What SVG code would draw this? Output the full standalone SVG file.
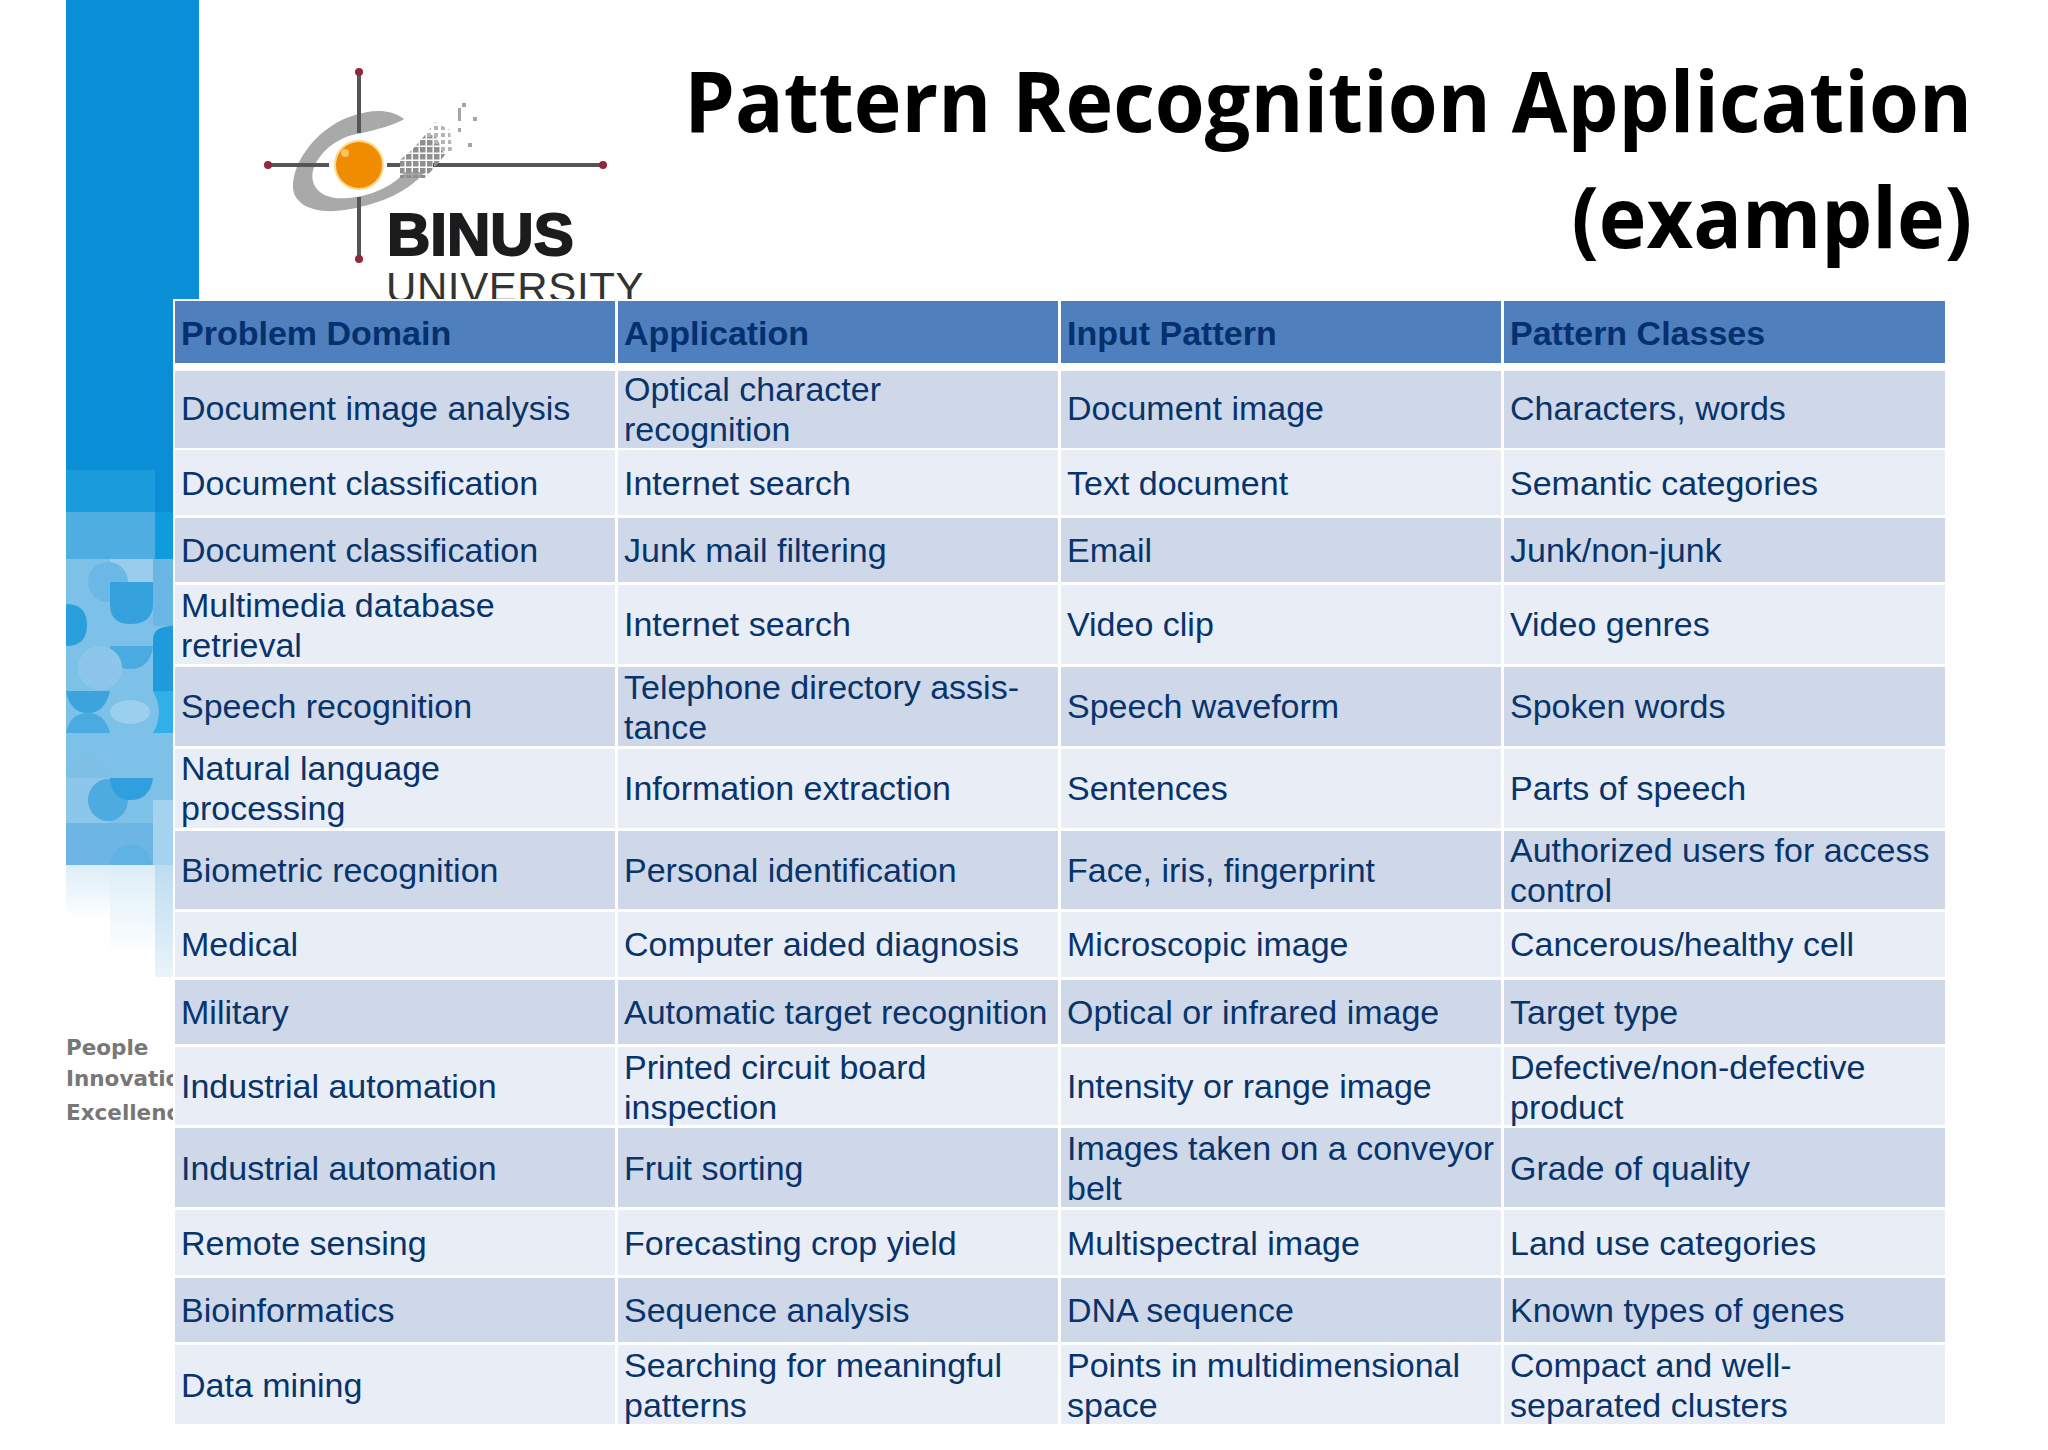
<svg xmlns="http://www.w3.org/2000/svg" width="2048" height="1450" viewBox="0 0 2048 1450">
<defs>
<style>
.t{font-family:"Liberation Sans",Arial,sans-serif;font-size:34px;fill:#08346c}
.h{font-weight:bold;fill:#04306e}
.a{fill:#cfd8e8}.b{fill:#e9edf5}.hd{fill:#4f7fbc}
.ttl{font-family:"Open Sans","Noto Sans",sans-serif;font-weight:bold;font-size:85px;fill:#000;text-anchor:end}
.s{font-family:"DejaVu Sans",sans-serif;font-size:21.5px;font-weight:bold;fill:#777}
</style>
<pattern id="px" width="7" height="7" patternUnits="userSpaceOnUse"><rect width="5.5" height="5.5" fill="#8f8f8f"/></pattern>
<pattern id="pxl" width="7" height="7" patternUnits="userSpaceOnUse"><rect width="4" height="4" fill="#b5b5b5"/></pattern>
<linearGradient id="fade" x1="0" y1="0" x2="0" y2="1"><stop offset="0" stop-color="#dcedf8"/><stop offset="1" stop-color="#fff"/></linearGradient>
<linearGradient id="fade2" x1="0" y1="0" x2="0" y2="1"><stop offset="0" stop-color="#bcdcf1"/><stop offset="1" stop-color="#eaf4fa"/></linearGradient>
</defs>
<rect width="2048" height="1450" fill="#fff"/>
<g id="sidebar">
<rect x="66" y="0" width="133" height="500" fill="#0a8ed5"/>
<rect x="66" y="470" width="89" height="42" fill="#1a9bdc"/>
<rect x="155" y="470" width="44" height="42" fill="#0a8ed5"/>
<rect x="66" y="512" width="89" height="47" fill="#50ade2"/>
<rect x="155" y="512" width="44" height="47" fill="#0f9cdf"/>
<rect x="66" y="559" width="107" height="306" fill="#7dc0e8"/>
<rect x="110" y="559" width="45" height="23" fill="#9acdec"/>
<rect x="153" y="559" width="20" height="67" fill="#6ab7e6"/>
<ellipse cx="108" cy="582" rx="20" ry="20" fill="#6bb8e6"/>
<path d="M110 582H153V604Q153 624 130 624Q110 624 110 604Z" fill="#35a2de"/>
<path d="M66 604Q87 604 87 625Q87 646 66 646Z" fill="#2a9fdd"/>
<path d="M153 691V640Q153 626 173 626V691Z" fill="#1f9add"/>
<path d="M110 646H153Q150 669 130 669Q112 669 110 646Z" fill="#49abe0"/>
<ellipse cx="100" cy="668" rx="22" ry="22" fill="#8cc7eb"/>
<path d="M66 691H110Q105 713 88 713Q70 713 66 691Z" fill="#3da3dd"/>
<path d="M66 733Q70 713 88 713Q105 713 110 733Z" fill="#49abe0"/>
<path d="M153 691H173V733H153Q165 712 153 691Z" fill="#2fb0e8"/>
<ellipse cx="130" cy="712" rx="20" ry="12" fill="#9bcfee"/>
<path d="M66 778Q70 758 88 758Q105 758 110 778Z" fill="#7fbfe6"/>
<rect x="66" y="778" width="44" height="45" fill="#8cc7eb"/>
<ellipse cx="108" cy="800" rx="20" ry="21" fill="#4eabe0"/>
<path d="M110 778H153Q150 800 130 800Q112 800 110 778Z" fill="#2f9fdd"/>
<rect x="66" y="823" width="87" height="42" fill="#6db5e4"/>
<path d="M110 867Q112 845 130 845Q150 845 153 867Z" fill="#5eb3e4"/>
<rect x="153" y="800" width="20" height="65" fill="#a5d2ef"/>
<rect x="66" y="865" width="44" height="55" fill="url(#fade)"/>
<rect x="110" y="865" width="45" height="92" fill="url(#fade)"/>
<rect x="155" y="865" width="18" height="112" fill="url(#fade2)"/>
</g>
<g id="motto">
<text class="s" x="66" y="1055">People</text>
<text class="s" x="66" y="1086">Innovation</text>
<text class="s" x="66" y="1120">Excellence</text>
</g>
<g id="logo">
<path d="M404 119C390 108 370 110 355 115C320 125 292 160 293 188C295 208 320 214 345 210C375 205 405 195 425 172L405 172C390 190 360 200 335 198C315 195 308 180 315 165C325 145 345 135 362 133C375 130 395 125 404 119Z" fill="#a9a9a9"/>
<path d="M359 72V133M359 197V259M268 165H329M387 165H400M433 165H603" stroke="#555" stroke-width="4" fill="none"/>
<circle cx="359" cy="165" r="24" fill="#f08c00" stroke="#fbd98a" stroke-width="2"/>
<circle cx="345" cy="153" r="4" fill="#fbc063"/>
<polygon points="400,178 425,178 434,168 445,155 435,135 425,135 412,150 400,160" fill="url(#px)"/>
<polygon points="425,135 435,122 450,130 452,150 445,155" fill="url(#pxl)"/>
<g fill="#a5a5a5"><rect x="462" y="103" width="4" height="4"/><rect x="458" y="108" width="3" height="13"/><rect x="473" y="117" width="4" height="4"/><rect x="458" y="128" width="3" height="4"/><rect x="468" y="143" width="4" height="4"/></g>
<g fill="#8f2a3c"><circle cx="268" cy="165" r="4"/><circle cx="603" cy="165" r="4"/><circle cx="359" cy="72" r="4"/><circle cx="359" cy="259" r="4"/></g>
<text x="387" y="255" font-family="Liberation Sans" font-weight="bold" font-size="60" fill="#1c1c1e" stroke="#1c1c1e" stroke-width="2">BINUS</text>
<text x="386" y="302" font-family="Liberation Sans" font-size="42" letter-spacing="0.6" fill="#333">UNIVERSITY</text>
</g>
<g id="title">
<text class="ttl" transform="translate(1972 132) scale(.95 1)">Pattern Recognition Application</text>
<text class="ttl" transform="translate(1972 248) scale(.95 1)">(example)</text>
</g>
<g id="table">
<rect x="173" y="299" width="1773" height="1126" fill="#fff"/>
<g id="cells">
<rect class="hd" x="175" y="301" width="440" height="62"/><rect class="hd" x="618" y="301" width="440" height="62"/><rect class="hd" x="1061" y="301" width="440" height="62"/><rect class="hd" x="1504" y="301" width="441" height="62"/>
<g class="a"><rect x="175" y="371" width="440" height="77"/><rect x="618" y="371" width="440" height="77"/><rect x="1061" y="371" width="440" height="77"/><rect x="1504" y="371" width="441" height="77"/></g>
<g class="b"><rect x="175" y="450" width="440" height="65"/><rect x="618" y="450" width="440" height="65"/><rect x="1061" y="450" width="440" height="65"/><rect x="1504" y="450" width="441" height="65"/></g>
<g class="a"><rect x="175" y="518" width="440" height="64"/><rect x="618" y="518" width="440" height="64"/><rect x="1061" y="518" width="440" height="64"/><rect x="1504" y="518" width="441" height="64"/></g>
<g class="b"><rect x="175" y="585" width="440" height="79"/><rect x="618" y="585" width="440" height="79"/><rect x="1061" y="585" width="440" height="79"/><rect x="1504" y="585" width="441" height="79"/></g>
<g class="a"><rect x="175" y="667" width="440" height="79"/><rect x="618" y="667" width="440" height="79"/><rect x="1061" y="667" width="440" height="79"/><rect x="1504" y="667" width="441" height="79"/></g>
<g class="b"><rect x="175" y="749" width="440" height="79"/><rect x="618" y="749" width="440" height="79"/><rect x="1061" y="749" width="440" height="79"/><rect x="1504" y="749" width="441" height="79"/></g>
<g class="a"><rect x="175" y="831" width="440" height="78"/><rect x="618" y="831" width="440" height="78"/><rect x="1061" y="831" width="440" height="78"/><rect x="1504" y="831" width="441" height="78"/></g>
<g class="b"><rect x="175" y="912" width="440" height="65"/><rect x="618" y="912" width="440" height="65"/><rect x="1061" y="912" width="440" height="65"/><rect x="1504" y="912" width="441" height="65"/></g>
<g class="a"><rect x="175" y="980" width="440" height="64"/><rect x="618" y="980" width="440" height="64"/><rect x="1061" y="980" width="440" height="64"/><rect x="1504" y="980" width="441" height="64"/></g>
<g class="b"><rect x="175" y="1047" width="440" height="78"/><rect x="618" y="1047" width="440" height="78"/><rect x="1061" y="1047" width="440" height="78"/><rect x="1504" y="1047" width="441" height="78"/></g>
<g class="a"><rect x="175" y="1128" width="440" height="79"/><rect x="618" y="1128" width="440" height="79"/><rect x="1061" y="1128" width="440" height="79"/><rect x="1504" y="1128" width="441" height="79"/></g>
<g class="b"><rect x="175" y="1210" width="440" height="65"/><rect x="618" y="1210" width="440" height="65"/><rect x="1061" y="1210" width="440" height="65"/><rect x="1504" y="1210" width="441" height="65"/></g>
<g class="a"><rect x="175" y="1278" width="440" height="64"/><rect x="618" y="1278" width="440" height="64"/><rect x="1061" y="1278" width="440" height="64"/><rect x="1504" y="1278" width="441" height="64"/></g>
<g class="b"><rect x="175" y="1345" width="440" height="79"/><rect x="618" y="1345" width="440" height="79"/><rect x="1061" y="1345" width="440" height="79"/><rect x="1504" y="1345" width="441" height="79"/></g>
</g>
<g id="labels" class="t">
<text class="t h" x="181" y="345">Problem Domain</text><text class="t h" x="624" y="345">Application</text><text class="t h" x="1067" y="345">Input Pattern</text><text class="t h" x="1510" y="345">Pattern Classes</text>
<text class="t" x="181" y="420">Document image analysis</text><text class="t" x="624" y="401">Optical character</text><text class="t" x="624" y="441">recognition</text><text class="t" x="1067" y="420">Document image</text><text class="t" x="1510" y="420">Characters, words</text>
<text class="t" x="181" y="495">Document classification</text><text class="t" x="624" y="495">Internet search</text><text class="t" x="1067" y="495">Text document</text><text class="t" x="1510" y="495">Semantic categories</text>
<text class="t" x="181" y="562">Document classification</text><text class="t" x="624" y="562">Junk mail filtering</text><text class="t" x="1067" y="562">Email</text><text class="t" x="1510" y="562">Junk/non-junk</text>
<text class="t" x="181" y="617">Multimedia database</text><text class="t" x="181" y="657">retrieval</text><text class="t" x="624" y="636">Internet search</text><text class="t" x="1067" y="636">Video clip</text><text class="t" x="1510" y="636">Video genres</text>
<text class="t" x="181" y="718">Speech recognition</text><text class="t" x="624" y="699">Telephone directory assis-</text><text class="t" x="624" y="739">tance</text><text class="t" x="1067" y="718">Speech waveform</text><text class="t" x="1510" y="718">Spoken words</text>
<text class="t" x="181" y="780">Natural language</text><text class="t" x="181" y="820">processing</text><text class="t" x="624" y="800">Information extraction</text><text class="t" x="1067" y="800">Sentences</text><text class="t" x="1510" y="800">Parts of speech</text>
<text class="t" x="181" y="882">Biometric recognition</text><text class="t" x="624" y="882">Personal identification</text><text class="t" x="1067" y="882">Face, iris, fingerprint</text><text class="t" x="1510" y="862">Authorized users for access</text><text class="t" x="1510" y="902">control</text>
<text class="t" x="181" y="956">Medical</text><text class="t" x="624" y="956">Computer aided diagnosis</text><text class="t" x="1067" y="956">Microscopic image</text><text class="t" x="1510" y="956">Cancerous/healthy cell</text>
<text class="t" x="181" y="1024">Military</text><text class="t" x="624" y="1024">Automatic target recognition</text><text class="t" x="1067" y="1024">Optical or infrared image</text><text class="t" x="1510" y="1024">Target type</text>
<text class="t" x="181" y="1098">Industrial automation</text><text class="t" x="624" y="1079">Printed circuit board</text><text class="t" x="624" y="1119">inspection</text><text class="t" x="1067" y="1098">Intensity or range image</text><text class="t" x="1510" y="1079">Defective/non-defective</text><text class="t" x="1510" y="1119">product</text>
<text class="t" x="181" y="1180">Industrial automation</text><text class="t" x="624" y="1180">Fruit sorting</text><text class="t" x="1067" y="1160">Images taken on a conveyor</text><text class="t" x="1067" y="1200">belt</text><text class="t" x="1510" y="1180">Grade of quality</text>
<text class="t" x="181" y="1255">Remote sensing</text><text class="t" x="624" y="1255">Forecasting crop yield</text><text class="t" x="1067" y="1255">Multispectral image</text><text class="t" x="1510" y="1255">Land use categories</text>
<text class="t" x="181" y="1322">Bioinformatics</text><text class="t" x="624" y="1322">Sequence analysis</text><text class="t" x="1067" y="1322">DNA sequence</text><text class="t" x="1510" y="1322">Known types of genes</text>
<text class="t" x="181" y="1397">Data mining</text><text class="t" x="624" y="1377">Searching for meaningful</text><text class="t" x="624" y="1417">patterns</text><text class="t" x="1067" y="1377">Points in multidimensional</text><text class="t" x="1067" y="1417">space</text><text class="t" x="1510" y="1377">Compact and well-</text><text class="t" x="1510" y="1417">separated clusters</text>
</g>
</g>
</svg>
